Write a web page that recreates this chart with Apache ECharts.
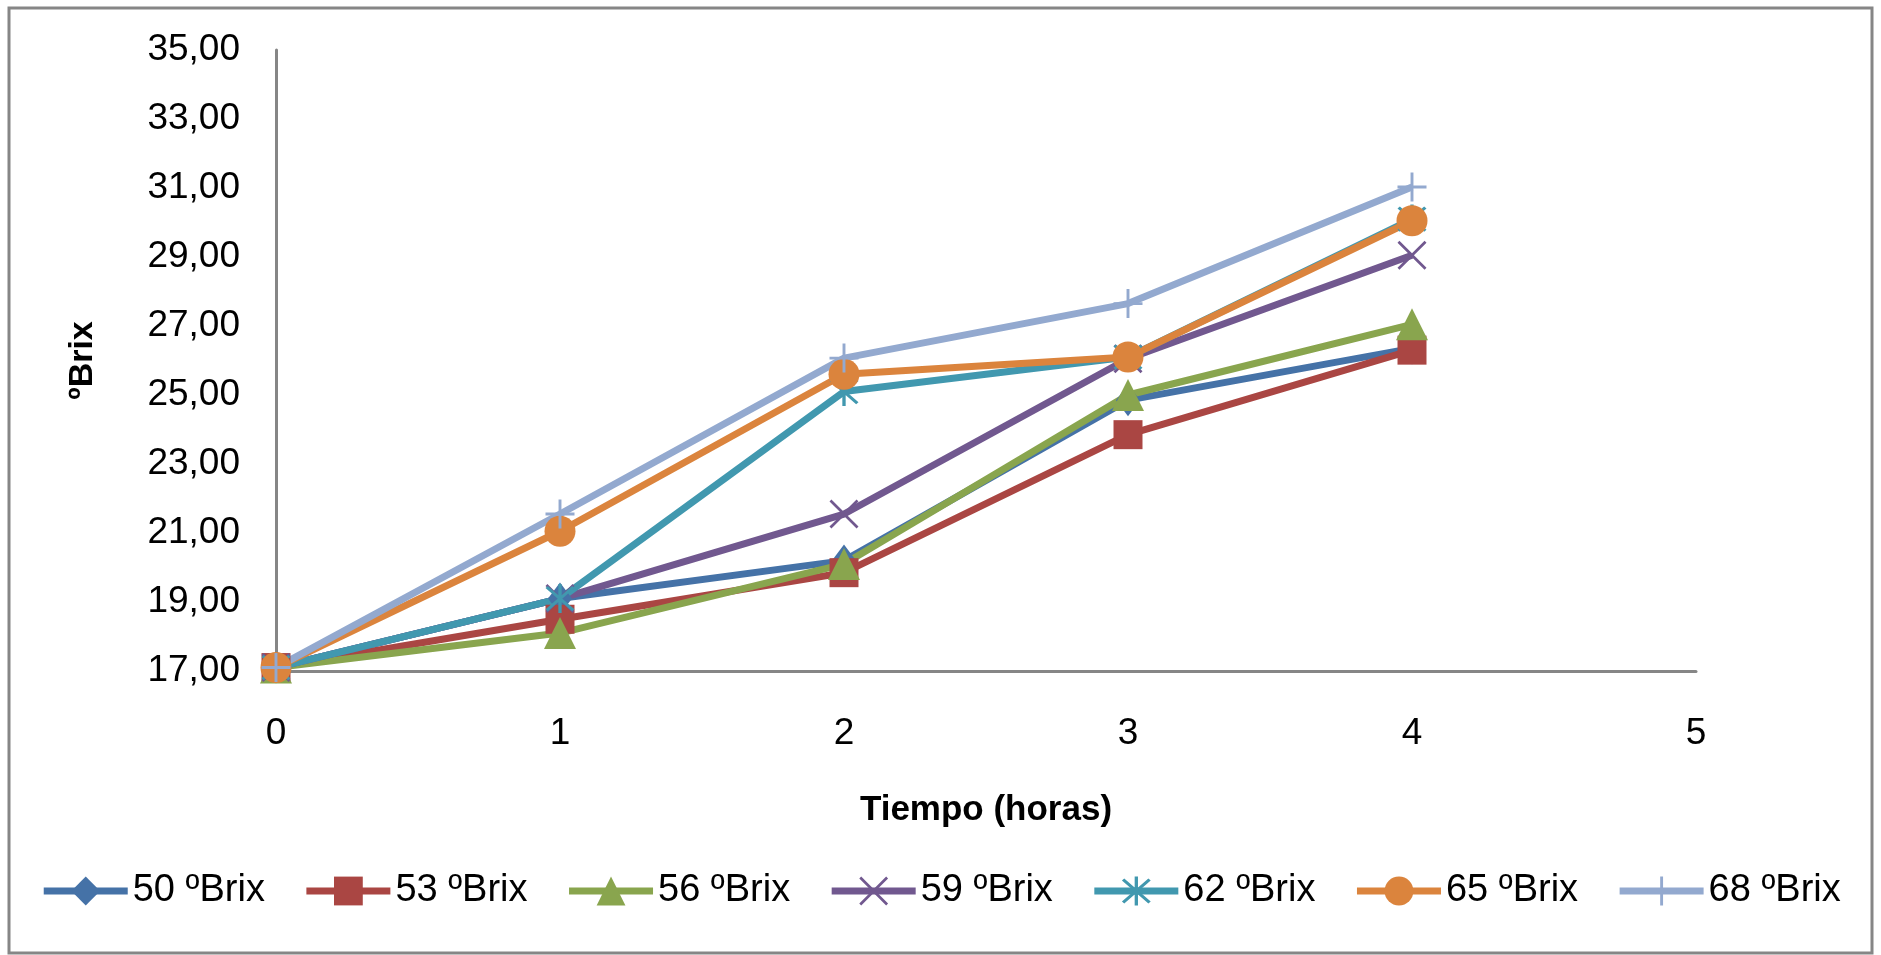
<!DOCTYPE html>
<html>
<head>
<meta charset="utf-8">
<title>ºBrix vs Tiempo</title>
<script src="https://cdn.jsdelivr.net/npm/echarts@6/dist/echarts.min.js"></script>
<style>
  html, body { margin: 0; padding: 0; background: #ffffff; }
  #chart { width: 1881px; height: 955px; }
</style>
</head>
<body>
<div id="chart"></div>
<script>
// Time in hours
const hours = [0, 1, 2, 3, 4];

// ºBrix readings for each syrup concentration
const brix50 = [17.1, 19.1, 20.2, 24.85, 26.35];
const brix53 = [17.1, 18.5, 19.85, 23.85, 26.3];
const brix56 = [17.1, 18.1, 20.1, 25.0, 27.05];
const brix59 = [17.1, 19.1, 21.55, 26.05, 29.05];
const brix62 = [17.1, 19.1, 25.1, 26.1, 30.1];
const brix65 = [17.1, 21.05, 25.6, 26.1, 30.05];
const brix68 = [17.1, 21.55, 26.07, 27.65, 31.03];

const seriesNames = ['50 ºBrix', '53 ºBrix', '56 ºBrix', '59 ºBrix', '62 ºBrix', '65 ºBrix', '68 ºBrix'];

// Axis ticks
const xTicks = [0, 1, 2, 3, 4, 5];
const yTicks = [17, 19, 21, 23, 25, 27, 29, 31, 33, 35];

const FONT = 'Liberation Sans';
const AXIS_GREY = '#868686';

// Marker shapes drawn as thin filled bars
const SYM_X = 'path://M-15,-13 L-13,-15 L0,-2 L13,-15 L15,-13 L2,0 L15,13 L13,15 L0,2 L-13,15 L-15,13 L-2,0 Z';
const SYM_PLUS = 'path://M-1.5,-15 L1.5,-15 L1.5,-1.5 L15,-1.5 L15,1.5 L1.5,1.5 L1.5,15 L-1.5,15 L-1.5,1.5 L-15,1.5 L-15,-1.5 L-1.5,-1.5 Z';
const SYM_STAR = 'path://M-1.5,-15 L1.5,-15 L1.5,15 L-1.5,15 Z ' +
  'M-10.94,-13.06 L13.06,10.94 L10.94,13.06 L-13.06,-10.94 Z ' +
  'M13.06,-10.94 L-10.94,13.06 L-13.06,10.94 L10.94,-13.06 Z';

const styles = [
  { data: brix50, color: '#4572A7', symbol: 'diamond', size: [24, 32] },
  { data: brix53, color: '#AA4643', symbol: 'rect', size: 29 },
  { data: brix56, color: '#89A54E', symbol: 'triangle', size: 32 },
  { data: brix59, color: '#71588F', symbol: SYM_X, size: 29 },
  { data: brix62, color: '#4198AF', symbol: SYM_STAR, size: 29 },
  { data: brix65, color: '#DB843D', symbol: 'circle', size: 31 },
  { data: brix68, color: '#93A9CF', symbol: SYM_PLUS, size: 29 }
];

const series = styles.map((s, i) => ({
  name: seriesNames[i],
  type: 'line',
  data: hours.map((h, k) => [h, s.data[k]]),
  symbol: s.symbol,
  symbolSize: s.size,
  showAllSymbol: true,
  lineStyle: { color: s.color, width: 7 },
  itemStyle: { color: s.color },
  emphasis: { disabled: true }
}));

const fmt = v => v.toFixed(2).replace('.', ',');

const chart = echarts.init(document.getElementById('chart'), null, { renderer: 'canvas' });
chart.setOption({
  animation: false,
  backgroundColor: '#ffffff',
  textStyle: { fontFamily: FONT },
  graphic: [{
    type: 'rect',
    shape: { x: 9, y: 8, width: 1863, height: 945 },
    style: { fill: 'none', stroke: AXIS_GREY, lineWidth: 3 },
    silent: true
  }],
  grid: { left: 276, right: 185, top: 50, bottom: 284 },
  xAxis: {
    type: 'value',
    min: xTicks[0],
    max: xTicks[xTicks.length - 1],
    interval: 1,
    name: 'Tiempo (horas)',
    nameLocation: 'middle',
    nameGap: 122,
    nameTextStyle: { fontFamily: FONT, fontSize: 35, fontWeight: 'bold', color: '#000' },
    axisLine: { lineStyle: { color: AXIS_GREY, width: 3 } },
    axisTick: { show: false },
    splitLine: { show: false },
    axisLabel: { fontFamily: FONT, fontSize: 37, color: '#000', margin: 44 }
  },
  yAxis: {
    type: 'value',
    min: yTicks[0],
    max: yTicks[yTicks.length - 1],
    name: 'ºBrix',
    nameLocation: 'middle',
    nameGap: 176,
    nameRotate: 90,
    nameTextStyle: { fontFamily: FONT, fontSize: 34, fontWeight: 'bold', color: '#000' },
    axisLine: { show: true, lineStyle: { color: AXIS_GREY, width: 3 } },
    axisTick: { show: false },
    splitLine: { show: false },
    axisLabel: {
      fontFamily: FONT, fontSize: 37, color: '#000', margin: 36,
      customValues: yTicks,
      formatter: fmt
    }
  },
  legend: {
    data: seriesNames,
    bottom: 40,
    left: 'center',
    itemWidth: 84,
    itemHeight: 36,
    itemGap: 38,
    lineStyle: { width: 7 },
    textStyle: { fontFamily: FONT, fontSize: 38, color: '#000' },
    selectedMode: false
  },
  series: series
});
</script>
</body>
</html>
